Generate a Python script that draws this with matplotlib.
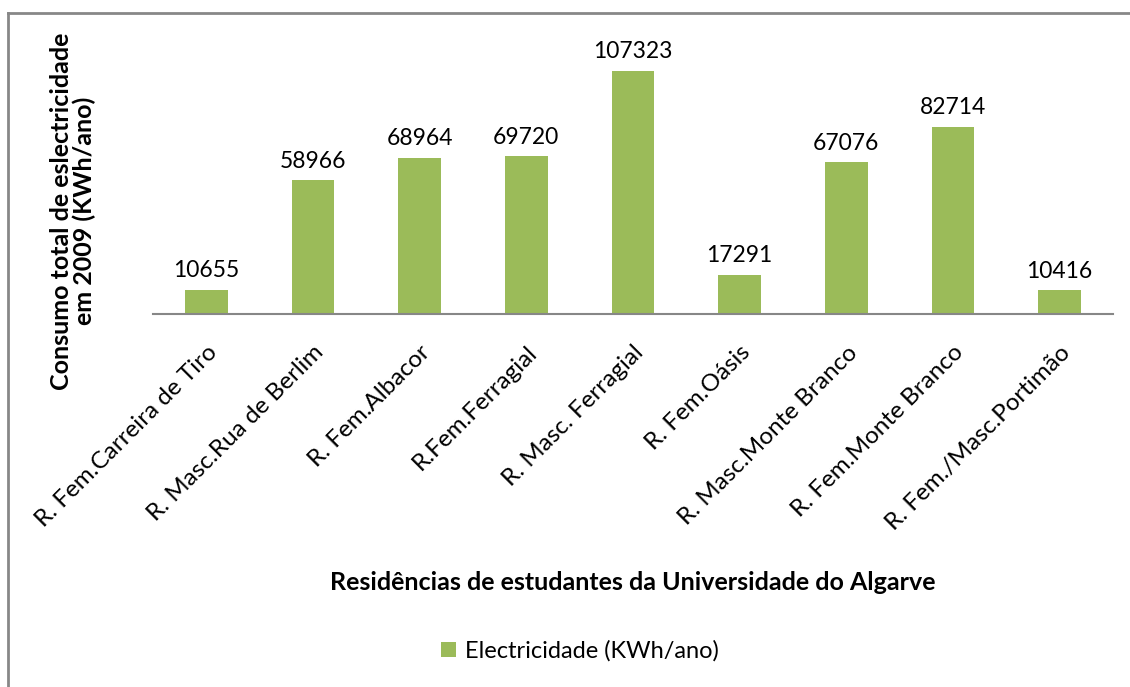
import matplotlib.pyplot as plt
import numpy as np
from matplotlib.lines import Line2D

residencias = ['R. Fem.Carreira de Tiro', 'R. Masc.Rua de Berlim', 'R. Fem.Albacor',
               'R.Fem.Ferragial', 'R. Masc. Ferragial', 'R. Fem.Oásis',
               'R. Masc.Monte Branco', 'R. Fem.Monte Branco', 'R. Fem./Masc.Portimão']
consumo = [10655, 58966, 68964, 69720, 107323, 17291, 67076, 82714, 10416]

plt.rcParams['font.family'] = ['Lato', 'DejaVu Sans']

W, H = 1130, 687
fig = plt.figure(figsize=(W / 100, H / 100), dpi=100)
# axes box in pixels: left 153, right 1113, baseline 314
ymax = 120000
px_per_unit = (314 - 71) / 107323
top_px = 314 - ymax * px_per_unit
ax = fig.add_axes([153 / W, 1 - 314 / H, (1113 - 153) / W, (314 - top_px) / H])

x = np.arange(len(residencias))
bars = ax.bar(x, consumo, width=0.4, color='#9BBB59', label='Electricidade (KWh/ano)')
ax.set_xlim(-0.5, len(residencias) - 0.5)
ax.set_ylim(0, ymax)

for xi, v in zip(x, consumo):
    ax.text(xi, v + 3800, str(v), ha='center', va='bottom', fontsize=16.5, color='black')

for s in ['top', 'right', 'left']:
    ax.spines[s].set_visible(False)
ax.spines['bottom'].set_color('#878787')
ax.spines['bottom'].set_linewidth(1.5)
ax.set_yticks([])
ax.set_xticks(x)
ax.set_xticklabels(residencias, rotation=45, ha='right', rotation_mode='anchor', fontsize=17.5)
ax.tick_params(axis='x', length=0, pad=20)

fig.text(633 / W, 1 - 582 / H, 'Residências de estudantes da Universidade do Algarve',
         ha='center', va='center', fontsize=18, fontweight='bold')
fig.text(73 / W, 1 - 211 / H, 'Consumo total de eslectricidade\nem 2009 (KWh/ano)',
         ha='center', va='center', rotation=90, fontsize=18, fontweight='bold',
         linespacing=1.0)

fig.legend(handles=[bars], loc='center', bbox_to_anchor=(580 / W, 1 - 651 / H),
           frameon=False, fontsize=17, handlelength=0.65, handleheight=0.65,
           handletextpad=0.4)

# chart frame (only left and top edges visible in the reference)
fig.add_artist(Line2D([8 / W, 8 / W], [0, 1 - 12.5 / H], color='#878787', lw=2,
                      transform=fig.transFigure))
fig.add_artist(Line2D([8 / W, 1], [1 - 12.5 / H, 1 - 12.5 / H], color='#878787', lw=2,
                      transform=fig.transFigure))

fig.savefig('out.png', dpi=100)
